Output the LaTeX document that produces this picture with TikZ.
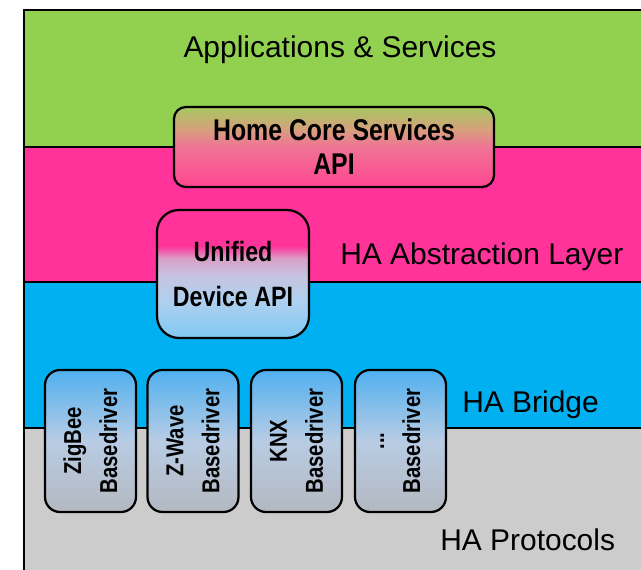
\documentclass[tikz,border=0pt]{standalone}
\usepackage{fontspec}
\setmainfont{Liberation Sans}
\newfontfamily\boxfont[FakeStretch=0.83]{Liberation Sans}
\usepackage{xcolor}
\usepackage{tikz}
\usetikzlibrary{calc}
\usetikzlibrary{shadings}

\definecolor{appgreen}{RGB}{146,208,80}
\definecolor{hapink}{RGB}{255,51,153}
\definecolor{hablue}{RGB}{0,176,240}
\definecolor{hagray}{RGB}{204,204,204}

\definecolor{coreT}{RGB}{165,200,95}
\definecolor{coreM}{RGB}{215,160,125}
\definecolor{coreL}{RGB}{240,115,150}
\definecolor{coreB}{RGB}{255,70,145}
\pgfdeclareverticalshading{coreshade}{100bp}{color(0bp)=(coreB); color(25bp)=(coreB); color(50bp)=(coreL); color(61bp)=(coreM); color(75bp)=(coreT); color(100bp)=(coreT)}

\definecolor{uniB}{RGB}{128,200,244}
\definecolor{uniL}{RGB}{176,208,238}
\definecolor{uniM}{RGB}{196,196,224}
\definecolor{uniV}{RGB}{216,160,200}
\pgfdeclareverticalshading{unishade}{100bp}{color(0bp)=(uniB); color(25bp)=(uniB); color(40bp)=(uniL); color(49bp)=(uniM); color(56bp)=(uniV); color(61bp)=(hapink); color(100bp)=(hapink)}

\definecolor{drvT}{RGB}{80,176,240}
\definecolor{drvM}{RGB}{184,204,228}
\definecolor{drvB}{RGB}{180,184,192}
\pgfdeclareverticalshading{drvshade}{100bp}{color(0bp)=(drvB); color(25bp)=(drvB); color(50bp)=(drvM); color(75bp)=(drvT); color(100bp)=(drvT)}

\begin{document}
\begin{tikzpicture}[x=0.025cm,y=-0.025cm,
	layer/.style={line width=1pt},
	layertext/.style={font=\fontsize{21.3}{25}\selectfont},
	apibox/.style={draw,line width=1.6pt,inner sep=0pt,align=center},
	drvbox/.style={draw,line width=1.6pt,rounded corners=10.7pt,shading=drvshade,minimum width=64.7pt,minimum height=101pt},
	drvtext/.style={rotate=90,align=center,font=\boxfont\bfseries\fontsize{17.4}{25.6}\selectfont}]
	\clip (0,0) rectangle (641,570);
	% layers
	\filldraw[layer,fill=appgreen] (24,10) rectangle (680,147);
	\filldraw[layer,fill=hapink] (24,147) rectangle (680,282);
	\filldraw[layer,fill=hablue] (24,282) rectangle (680,428);
	\filldraw[layer,fill=hagray] (24,428) rectangle (680,600);
	\draw[line width=2pt] (24,600) -- (24,10) -- (680,10);
	\node[layertext,anchor=base] (apps) at (340,58) {Applications \& Services};
	\node[layertext,anchor=base west,inner sep=0pt] (abstr) at (340,265) {HA Abstraction Layer};
	\node[layertext,anchor=base west,inner sep=0pt] (bridge) at (462,413) {HA Bridge};
	\node[layertext,anchor=base west,inner sep=0pt] (proto) at (440,551) {HA Protocols};
	% api boxes
	\node[apibox,rounded corners=8.5pt,shading=coreshade,minimum width=227.6pt,minimum height=56.9pt,
		font=\boxfont\bfseries\fontsize{21.3}{24.2}\selectfont] (core) at (334,147) {Home Core Services\\API};
	\node[apibox,rounded corners=15.6pt,shading=unishade,minimum width=108.1pt,minimum height=91pt,
		font=\boxfont\bfseries\fontsize{19.9}{32.7}\selectfont] (unified) at (233,274) {Unified\\Device API};
	% drivers
	\node[drvbox] (zigbee) at (90.5,441) {};
	\node[drvbox] (zwave) at (193,441) {};
	\node[drvbox] (knx) at (296.5,441) {};
	\node[drvbox] (other) at (400.5,441) {};
	\node[drvtext] (zigbeetxt) at (zigbee.center) {ZigBee\\Basedriver};
	\node[drvtext] (zwavetxt) at (zwave.center) {Z-Wave\\Basedriver};
	\node[drvtext] (knxtxt) at (knx.center) {KNX\\Basedriver};
	\node[drvtext] (othertxt) at (other.center) {...\\Basedriver};
\end{tikzpicture}
\end{document}
